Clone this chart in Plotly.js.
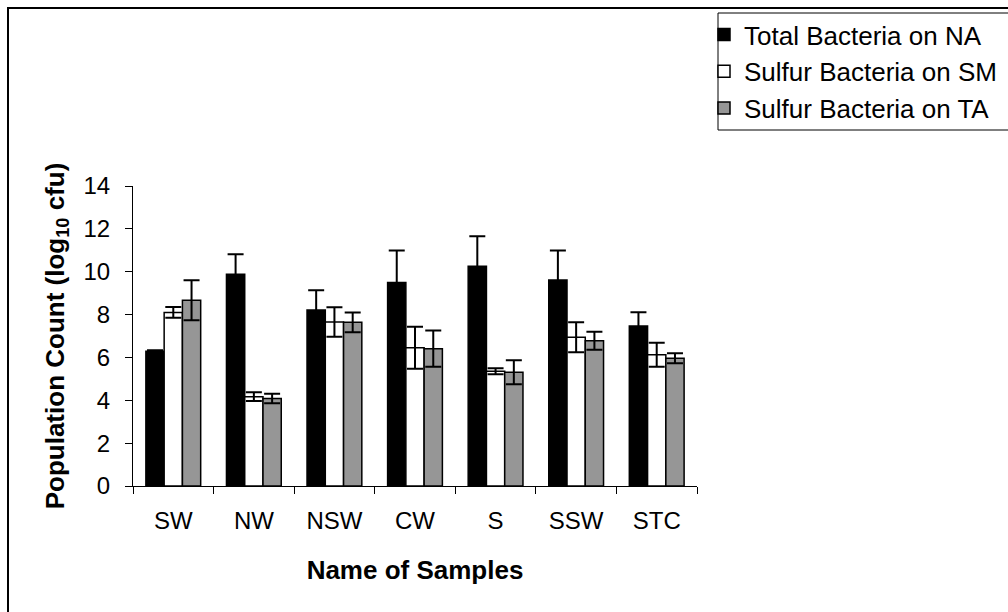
<!DOCTYPE html>
<html>
<head>
<meta charset="utf-8">
<script src="https://cdn.plot.ly/plotly-3.0.1.min.js"></script>
<style>
html,body{margin:0;padding:0;background:#fff;}
#chart{width:1008px;height:612px;}
</style>
</head>
<body>
<div id="chart"></div>
<script>
var samples = ["SW", "NW", "NSW", "CW", "S", "SSW", "STC"];
var totalNA = [6.29, 9.88, 8.21, 9.50, 10.25, 9.61, 7.47];
var totalNAErr = [0.05, 0.93, 0.92, 1.49, 1.40, 1.38, 0.64];
var sulfurSM = [8.10, 4.17, 7.65, 6.45, 5.35, 6.94, 6.13];
var sulfurSMErr = [0.25, 0.20, 0.69, 0.98, 0.14, 0.70, 0.56];
var sulfurTA = [8.67, 4.08, 7.64, 6.41, 5.31, 6.78, 5.96];
var sulfurTAErr = [0.93, 0.22, 0.46, 0.85, 0.56, 0.42, 0.23];

function errCfg(arr) {
  return {type: "data", array: arr, visible: true, color: "#000", thickness: 2, width: 8};
}
var lineCfg = {color: "#000", width: 1.5};
var traces = [
  {type: "bar", name: "Total Bacteria on NA", x: samples, y: totalNA,
   error_y: errCfg(totalNAErr), marker: {color: "#000000", line: lineCfg}, legendgroup: "a"},
  {type: "bar", name: "Sulfur Bacteria on SM", x: samples, y: sulfurSM,
   error_y: errCfg(sulfurSMErr), marker: {color: "#ffffff", line: lineCfg}, legendgroup: "b"},
  {type: "bar", name: "Sulfur Bacteria on TA", x: samples, y: sulfurTA,
   error_y: errCfg(sulfurTAErr), marker: {color: "#969696", line: lineCfg}, legendgroup: "c"}
];

var L = 133, R = 311, T = 186, B = 126;
var pw = 1008 - L - R, ph = 612 - T - B;
function px(x) { return (x - L) / pw; }
function py(y) { return (612 - B - y) / ph; }

var FONT = "Liberation Sans, Arial, sans-serif";
var layout = {
  width: 1008, height: 612,
  margin: {l: L, r: R, t: T, b: B, pad: 0, autoexpand: false},
  paper_bgcolor: "#fff", plot_bgcolor: "#fff",
  font: {family: FONT, color: "#000", size: 24},
  barmode: "group", bargap: 0.32, bargroupgap: 0,
  showlegend: true,
  legend: {
    x: px(704), y: py(11), xanchor: "left", yanchor: "top",
    bgcolor: "rgba(0,0,0,0)", borderwidth: 0,
    font: {size: 26, family: FONT},
    tracegroupgap: 0, traceorder: "normal"
  },
  xaxis: {
    type: "category", showline: true, linecolor: "#000", linewidth: 1,
    ticks: "outside", tickson: "boundaries", ticklen: 7, tickcolor: "#000", tickwidth: 1,
    showgrid: false, zeroline: false, ticklabelstandoff: 13,
    tickfont: {size: 24}, automargin: false,
    title: {text: "<b>Name of Samples</b>", font: {size: 26}, standoff: 28}
  },
  yaxis: {
    range: [0, 14], dtick: 2, showline: true, linecolor: "#000", linewidth: 1,
    ticks: "outside", ticklen: 7, tickcolor: "#000", tickwidth: 1,
    showgrid: false, zeroline: false, ticklabelstandoff: 10,
    tickfont: {size: 24}, automargin: false,
    title: {text: "<b>Population Count (log<sub>10</sub> cfu)</b>", font: {size: 26}, standoff: 11}
  },
  shapes: [
    {type: "rect", xref: "paper", yref: "paper", x0: px(8), x1: px(1020), y0: py(8), y1: py(640),
     line: {color: "#000", width: 2}, fillcolor: "rgba(0,0,0,0)", layer: "below"},
    {type: "rect", xref: "paper", yref: "paper", x0: px(718), x1: px(1020), y0: py(13), y1: py(130),
     line: {color: "#000", width: 1}, fillcolor: "#fff", layer: "below"}
  ]
};

Plotly.newPlot("chart", traces, layout, {displayModeBar: false, staticPlot: true});
</script>
</body>
</html>
